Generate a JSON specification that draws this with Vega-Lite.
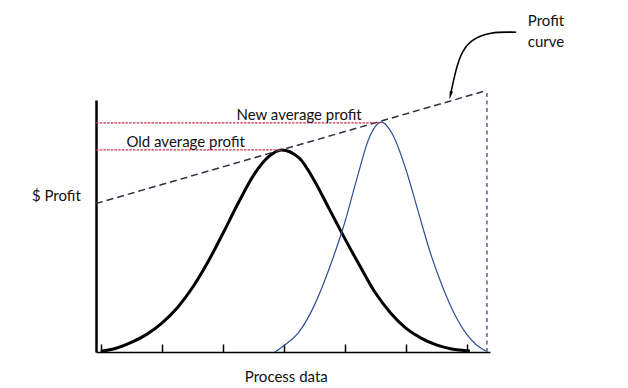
{
  "$schema": "https://vega.github.io/schema/vega-lite/v6.json",
  "width": 394,
  "height": 252,
  "autosize": {"type": "none"},
  "padding": {"left": 96, "top": 100, "right": 138, "bottom": 36},
  "background": "white",
  "config": {"view": {"stroke": null}, "font": "Lato"},
  "datasets": {
    "curves": [
      {"series": "old", "x": 0.0, "y": 0.3},
      {"series": "old", "x": 0.25, "y": 1.5},
      {"series": "old", "x": 0.5, "y": 3.8},
      {"series": "old", "x": 0.75, "y": 7.0},
      {"series": "old", "x": 1.0, "y": 11.5},
      {"series": "old", "x": 1.25, "y": 17.5},
      {"series": "old", "x": 1.5, "y": 25.5},
      {"series": "old", "x": 1.75, "y": 35.5},
      {"series": "old", "x": 2.0, "y": 47.0},
      {"series": "old", "x": 2.25, "y": 59.0},
      {"series": "old", "x": 2.5, "y": 70.0},
      {"series": "old", "x": 2.75, "y": 77.5},
      {"series": "old", "x": 2.96, "y": 80.2},
      {"series": "old", "x": 3.25, "y": 77.0},
      {"series": "old", "x": 3.5, "y": 68.0},
      {"series": "old", "x": 3.75, "y": 56.5},
      {"series": "old", "x": 4.0, "y": 45.0},
      {"series": "old", "x": 4.25, "y": 34.0},
      {"series": "old", "x": 4.5, "y": 23.5},
      {"series": "old", "x": 4.75, "y": 15.5},
      {"series": "old", "x": 5.0, "y": 9.5},
      {"series": "old", "x": 5.25, "y": 5.5},
      {"series": "old", "x": 5.5, "y": 2.8},
      {"series": "old", "x": 5.75, "y": 1.2},
      {"series": "old", "x": 6.05, "y": 0.4},
      {"series": "new", "x": 2.85, "y": 0.0},
      {"series": "new", "x": 3.0, "y": 2.5},
      {"series": "new", "x": 3.25, "y": 8.0},
      {"series": "new", "x": 3.5, "y": 18.5},
      {"series": "new", "x": 3.75, "y": 33.5},
      {"series": "new", "x": 4.0, "y": 51.5},
      {"series": "new", "x": 4.2, "y": 69.0},
      {"series": "new", "x": 4.4, "y": 85.0},
      {"series": "new", "x": 4.6, "y": 91.2},
      {"series": "new", "x": 4.8, "y": 85.5},
      {"series": "new", "x": 5.0, "y": 72.5},
      {"series": "new", "x": 5.2, "y": 56.0},
      {"series": "new", "x": 5.4, "y": 39.5},
      {"series": "new", "x": 5.6, "y": 26.0},
      {"series": "new", "x": 5.8, "y": 15.0},
      {"series": "new", "x": 6.0, "y": 7.0},
      {"series": "new", "x": 6.15, "y": 3.0},
      {"series": "new", "x": 6.32, "y": 0.3}
    ],
    "segments": [
      {"name": "profit", "x": -0.08, "y": 58.9, "x2": 6.33, "y2": 103.8},
      {"name": "edge", "x": 6.33, "y": 0, "x2": 6.33, "y2": 103.8},
      {"name": "newavg", "x": -0.08, "y": 90.9, "x2": 4.6, "y2": 90.9},
      {"name": "oldavg", "x": -0.08, "y": 80.2, "x2": 2.96, "y2": 80.2}
    ],
    "labels": [
      {"text": "New average profit", "x": 3.25, "y": 94.2, "align": "center"},
      {"text": "Old average profit", "x": 1.39, "y": 83.3, "align": "center"},
      {"text": "$ Profit", "x": -0.73, "y": 61.9, "align": "center"},
      {"text": "Process data", "x": 3.04, "y": -10.1, "align": "center"},
      {"text": "Profit", "x": 7.0, "y": 131.2, "align": "left"},
      {"text": "curve", "x": 7.0, "y": 123.0, "align": "left"}
    ],
    "arrow": [
      {"order": 1, "x": 6.81, "y": 126.9},
      {"order": 2, "x": 6.38, "y": 127.1},
      {"order": 3, "x": 6.05, "y": 123.8},
      {"order": 4, "x": 5.89, "y": 117.9},
      {"order": 5, "x": 5.8, "y": 109.9},
      {"order": 6, "x": 5.74, "y": 103.0}
    ],
    "arrowhead": [
      {"x": 5.73, "y": 101.8}
    ]
  },
  "layer": [
    {
      "data": {"name": "curves"},
      "transform": [{"filter": "datum.series === 'old'"}],
      "mark": {"type": "line", "color": "#000000", "strokeWidth": 3, "interpolate": "monotone", "clip": false},
      "encoding": {
        "x": {"field": "x", "type": "quantitative", "title": null, "scale": {"domain": [-0.08, 6.38], "nice": false, "zero": false},
          "axis": {"orient": "bottom", "values": [0, 1, 2, 3, 4, 5, 6], "labels": false, "tickSize": -8, "tickColor": "#000000", "tickWidth": 1.5, "domainColor": "#000000", "domainWidth": 1.5, "title": null, "grid": false}},
        "y": {"field": "y", "type": "quantitative", "title": null, "scale": {"domain": [0, 100], "nice": false, "zero": false},
          "axis": {"ticks": false, "labels": false, "domainColor": "#000000", "domainWidth": 2.5, "title": null, "grid": false}}
      }
    },
    {
      "data": {"name": "curves"},
      "transform": [{"filter": "datum.series === 'new'"}],
      "mark": {"type": "line", "color": "#2e4f96", "strokeWidth": 1.2, "interpolate": "monotone", "clip": false},
      "encoding": {
        "x": {"field": "x", "type": "quantitative", "title": null},
        "y": {"field": "y", "type": "quantitative", "title": null}
      }
    },
    {
      "data": {"name": "segments"},
      "transform": [{"filter": "datum.name === 'profit'"}],
      "mark": {"type": "rule", "color": "#2d3140", "strokeWidth": 1.5, "strokeDash": [7, 4], "clip": false},
      "encoding": {
        "x": {"field": "x", "type": "quantitative", "title": null},
        "y": {"field": "y", "type": "quantitative", "title": null},
        "x2": {"field": "x2"},
        "y2": {"field": "y2"}
      }
    },
    {
      "data": {"name": "segments"},
      "transform": [{"filter": "datum.name === 'edge'"}],
      "mark": {"type": "rule", "color": "#4a6590", "strokeWidth": 1.5, "strokeDash": [4, 3.5], "clip": false},
      "encoding": {
        "x": {"field": "x", "type": "quantitative", "title": null},
        "y": {"field": "y", "type": "quantitative", "title": null},
        "x2": {"field": "x2"},
        "y2": {"field": "y2"}
      }
    },
    {
      "data": {"name": "segments"},
      "transform": [{"filter": "datum.name === 'newavg' || datum.name === 'oldavg'"}],
      "mark": {"type": "rule", "color": "#c8304a", "strokeWidth": 1.3, "strokeDash": [2.5, 1.2], "clip": false},
      "encoding": {
        "x": {"field": "x", "type": "quantitative", "title": null},
        "y": {"field": "y", "type": "quantitative", "title": null},
        "x2": {"field": "x2"},
        "y2": {"field": "y2"}
      }
    },
    {
      "data": {"name": "arrow"},
      "mark": {"type": "line", "color": "#000000", "strokeWidth": 1.6, "interpolate": "basis", "clip": false},
      "encoding": {
        "x": {"field": "x", "type": "quantitative", "title": null},
        "y": {"field": "y", "type": "quantitative", "title": null},
        "order": {"field": "order"}
      }
    },
    {
      "data": {"name": "arrowhead"},
      "mark": {"type": "point", "shape": "M -0.4 -1 L 0 1 L 0.4 -1 Z", "filled": true, "color": "#000000", "size": 70, "angle": 15, "opacity": 1, "clip": false},
      "encoding": {
        "x": {"field": "x", "type": "quantitative", "title": null},
        "y": {"field": "y", "type": "quantitative", "title": null}
      }
    },
    {
      "data": {"name": "labels"},
      "transform": [{"filter": "datum.align === 'center'"}],
      "mark": {"type": "text", "font": "Lato", "fontSize": 15, "color": "#111111", "align": "center", "baseline": "middle", "clip": false},
      "encoding": {
        "x": {"field": "x", "type": "quantitative", "title": null},
        "y": {"field": "y", "type": "quantitative", "title": null},
        "text": {"field": "text"}
      }
    },
    {
      "data": {"name": "labels"},
      "transform": [{"filter": "datum.align === 'left'"}],
      "mark": {"type": "text", "font": "Lato", "fontSize": 15, "color": "#111111", "align": "left", "baseline": "middle", "clip": false},
      "encoding": {
        "x": {"field": "x", "type": "quantitative", "title": null},
        "y": {"field": "y", "type": "quantitative", "title": null},
        "text": {"field": "text"}
      }
    }
  ]
}
